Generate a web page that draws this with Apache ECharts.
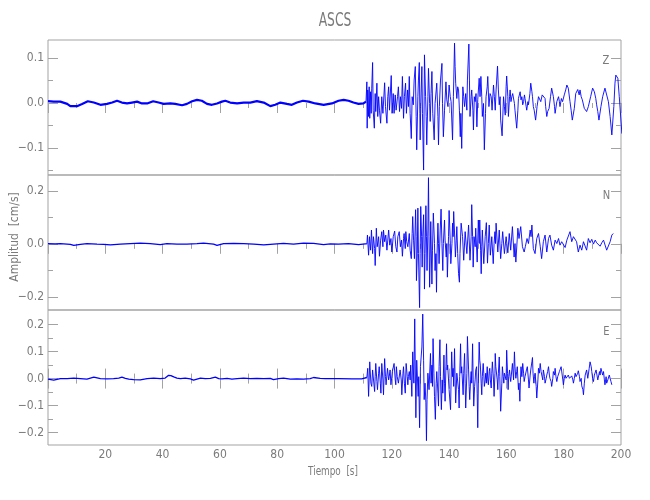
<!DOCTYPE html>
<html>
<head>
<meta charset="utf-8">
<script src="https://cdn.jsdelivr.net/npm/echarts@6/dist/echarts.min.js"></script>
<style>html,body{margin:0;padding:0;background:#fff}#c{width:650px;height:500px}</style>
</head>
<body>
<div id="c"></div>
<script>
// ---------------- DATA (time [s], amplitude [cm/s]) ----------------
const titleText = 'ASCS';
const components = ['Z', 'N', 'E'];
const xTicks = [0, 20, 40, 60, 80, 100, 120, 140, 160, 180, 200];
const zTicks = [-0.1, 0.0, 0.1];
const zMinor = [-0.15, -0.05, 0.05];
const nTicks = [-0.2, 0.0, 0.2];
const nMinor = [-0.1, 0.1];
const eTicks = [-0.2, -0.1, 0.0, 0.1, 0.2];
const eMinor = [-0.15, -0.05, 0.05, 0.15];
const zRange = [-0.16, 0.14];
const nRange = [-0.25, 0.26];
const eRange = [-0.246, 0.254];

const zPre = [[0,0.004],[2,0.003],[4.3,0.003],[6.7,-0.002],[7.8,-0.007],[10.1,-0.007],[11.9,-0.002],[13.9,0.004],[16,0.001],[18.3,-0.004],[20.6,-0.002],[22.4,0.001],[24.1,0.005],[25.8,0.001],[27.6,-0.001],[29.3,0.001],[31.1,0.003],[32.8,-0.001],[34.6,-0.001],[36.7,0.004],[38.6,0.001],[40.4,-0.002],[42.7,-0.001],[44.4,-0.002],[46.8,-0.005],[48.5,-0.002],[50.3,0.004],[52,0.007],[53.7,0.005],[55.5,-0.002],[57.2,-0.004],[59,-0.001],[60.7,0.003],[61.9,0.005],[63.6,0.001],[66,-0.001],[68.3,0.001],[70.6,0.001],[72.9,0.004],[75.3,0.001],[77.6,-0.007],[79.3,-0.004],[81.1,0.001],[83.4,-0.002],[85.1,-0.004],[86.9,0.001],[89,0.005],[91,0.003],[93.3,-0.001],[96.2,-0.004],[99.1,-0.001],[101.4,0.005],[103.2,0.007],[104.9,0.005],[106.6,0.001],[108.4,-0.002],[110.1,-0.001],[111,0.003]];

const zEvt = [[111,0.003],[111.3,0.047],[111.4,-0.056],[111.6,0.029],[111.9,-0.030],[112.1,0.036],[112.3,-0.034],[112.6,0.025],[112.8,-0.023],[113.0,0.033],[113.3,0.090],[113.5,-0.016],[113.9,-0.056],[114.2,0.021],[114.4,-0.019],[114.8,0.044],[115.1,-0.030],[115.4,0.014],[115.7,-0.016],[116.1,-0.045],[116.5,0.014],[116.9,-0.023],[117.5,0.045],[117.8,-0.008],[118.3,-0.045],[118.6,0.014],[118.9,0.036],[119.2,-0.016],[119.8,0.061],[120.1,-0.023],[120.5,0.021],[120.8,-0.023],[121.2,0.018],[121.5,-0.016],[122.0,0.014],[122.3,0.036],[122.7,-0.019],[123.0,0.014],[123.4,-0.012],[123.7,0.059],[124.1,-0.034],[124.4,0.014],[124.8,0.044],[125.1,-0.023],[125.5,0.029],[125.8,-0.008],[126.1,0.059],[126.4,-0.023],[126.8,-0.079],[127.1,0.014],[127.5,-0.004],[127.8,0.051],[128.2,0.081],[128.5,-0.030],[128.7,-0.104],[129.1,0.014],[129.3,0.051],[129.6,0.090],[129.8,-0.023],[129.9,-0.082],[130.1,-0.008],[130.5,0.081],[130.7,-0.023],[131.1,-0.149],[131.3,0.014],[131.4,0.107],[131.8,0.014],[132.0,-0.030],[132.2,-0.093],[132.6,0.014],[132.8,0.077],[133.2,-0.001],[133.4,-0.041],[133.7,0.021],[134.0,0.070],[134.3,-0.023],[134.8,-0.082],[135.1,-0.001],[135.5,0.029],[135.7,0.044],[136.1,-0.030],[136.3,-0.093],[136.6,-0.008],[137.0,0.051],[137.5,0.088],[137.7,-0.001],[138.0,-0.075],[138.4,-0.016],[138.9,0.047],[139.2,0.007],[139.6,-0.008],[140.0,0.040],[140.4,0.014],[140.7,0.003],[141.2,-0.082],[141.5,0.014],[141.9,0.133],[142.1,0.081],[142.3,0.044],[142.7,0.010],[143.0,0.036],[143.3,0.029],[143.6,-0.016],[143.9,-0.075],[144.1,-0.023],[144.4,-0.101],[144.8,0.036],[145.1,0.014],[145.4,-0.008],[145.8,0.021],[146.2,-0.016],[146.4,0.051],[146.9,0.131],[147.1,0.051],[147.3,-0.030],[147.7,0.014],[147.9,0.029],[148.3,-0.016],[148.5,-0.060],[148.8,0.014],[149.1,0.003],[149.4,0.021],[149.7,-0.053],[150.0,0.007],[150.5,0.055],[150.8,0.014],[151.1,0.059],[151.4,0.014],[151.6,-0.030],[152.0,-0.001],[152.3,-0.104],[152.7,-0.023],[152.9,0.014],[153.3,0.036],[153.5,0.059],[153.9,-0.008],[154.3,0.021],[154.7,0.014],[155.0,-0.016],[155.5,0.040],[155.8,0.014],[156.1,-0.016],[156.4,0.029],[156.9,0.082],[157.2,0.029],[157.5,-0.004],[157.8,0.014],[158.0,-0.038],[158.5,-0.073],[159.0,0.014],[159.3,-0.008],[159.6,-0.027],[159.9,0.036],[160.1,0.060],[160.5,0.014],[160.7,-0.030],[161.1,0.014],[161.3,0.029],[161.6,0.003],[161.9,0.014],[162.2,0.021],[162.5,0.025],[162.8,-0.001],[163.0,-0.016],[163.6,-0.056],[164.0,-0.016],[164.2,0.010],[164.8,0.025],[165.1,0.007],[165.4,0.014],[165.7,-0.004],[166.0,0.003],[166.3,0.018],[166.5,0.010],[166.9,-0.008],[167.1,-0.016],[167.5,0.003],[167.7,-0.004],[168.2,0.021],[168.5,0.044],[168.9,0.025],[169.1,0.014],[169.4,-0.008],[169.7,-0.016],[170.2,-0.038],[170.7,-0.008],[171.2,0.014],[171.6,0.010],[172.0,0.003],[172.5,0.018],[172.9,0.014],[173.5,0.010],[173.7,-0.008],[174.1,-0.030],[174.4,-0.019],[174.9,-0.012],[175.4,0.014],[175.8,0.033],[176.4,0.014],[176.8,-0.008],[177.0,-0.023],[177.6,0.003],[178.2,0.014],[178.5,0.003],[178.7,-0.008],[179.2,0.010],[179.6,0.003],[180.2,0.018],[180.7,0.029],[181.1,0.040],[181.6,0.033],[182.2,0.003],[182.6,-0.016],[183.0,-0.038],[183.7,-0.012],[184.2,0.021],[184.9,0.030],[185.4,0.018],[185.7,0.029],[186.1,0.014],[186.5,0.007],[187.2,-0.012],[188.0,-0.019],[188.6,-0.008],[189.4,0.014],[190.1,0.033],[190.7,0.025],[191.2,0.010],[191.5,-0.004],[191.9,-0.019],[192.3,-0.038],[193.0,-0.008],[193.6,0.014],[194.4,0.033],[195.0,0.029],[195.6,0.003],[196.2,-0.030],[196.8,-0.071],[197.5,-0.008],[197.9,0.044],[198.2,0.062],[198.6,0.059],[198.9,0.055],[199.4,0.014],[200.0,-0.040],[200.3,-0.068]];

const nPre = [[0,0.001],[2.5,0.0],[4.3,0.001],[7.8,-0.002],[9.0,-0.006],[11.3,-0.002],[13.6,0.001],[17.1,-0.001],[19.4,-0.002],[21.8,-0.004],[25.3,-0.001],[28.7,0.001],[32.2,0.003],[35.7,0.001],[39.2,-0.003],[41.5,0.001],[45.0,-0.001],[48.5,-0.001],[52.0,0.001],[54.3,0.003],[57.8,-0.001],[59.0,-0.006],[61.3,0.001],[64.8,0.002],[68.3,0.001],[71.8,-0.001],[75.3,-0.004],[78.7,-0.001],[82.2,0.002],[85.7,-0.001],[89.2,0.003],[92.7,0.002],[96.2,-0.003],[98.5,0.0],[101.4,-0.001],[104.9,0.001],[108.4,-0.003],[110.7,0.0],[111.3,0.0]];

const nEvt = [[111.3,0.0],[111.5,0.033],[111.9,-0.043],[112.2,0.027],[112.6,-0.024],[112.9,0.052],[113.3,-0.037],[113.6,0.027],[114.0,-0.018],[114.2,-0.082],[114.6,0.059],[114.9,-0.011],[115.4,0.027],[115.7,-0.047],[116.1,0.014],[116.5,0.046],[116.9,-0.011],[117.1,0.052],[117.5,0.008],[117.9,0.033],[118.3,-0.024],[118.6,0.014],[118.9,0.052],[119.3,-0.005],[119.7,0.020],[120.0,-0.031],[120.5,0.027],[121.0,0.048],[121.4,-0.011],[121.8,-0.031],[122.1,0.027],[122.6,0.046],[123.0,-0.011],[123.4,0.014],[123.7,-0.047],[124.1,0.020],[124.3,0.039],[124.7,-0.018],[124.9,0.046],[125.2,0.008],[125.6,-0.011],[126.1,0.039],[126.4,-0.024],[126.8,-0.056],[127.1,0.039],[127.3,0.103],[127.6,0.014],[127.9,-0.056],[128.3,0.129],[128.5,0.027],[128.6,-0.139],[128.9,-0.037],[129.1,0.135],[129.3,-0.037],[129.7,-0.241],[129.9,-0.037],[130.1,0.141],[130.4,0.027],[130.6,-0.088],[130.8,0.027],[131.1,0.110],[131.3,-0.037],[131.4,-0.171],[131.6,-0.037],[131.9,0.144],[132.1,0.027],[132.3,-0.101],[132.6,0.052],[132.8,0.250],[133.0,0.027],[133.2,-0.164],[133.4,-0.050],[133.6,0.084],[134.0,-0.152],[134.2,-0.024],[134.5,0.116],[134.9,0.001],[135.1,-0.101],[135.4,-0.037],[135.6,-0.183],[135.8,-0.037],[136.1,0.078],[136.3,0.001],[136.5,-0.075],[136.9,0.052],[137.2,0.131],[137.5,0.001],[137.8,-0.101],[138.0,0.001],[138.4,0.090],[138.6,0.014],[139.0,-0.050],[139.2,0.001],[139.4,-0.126],[139.8,0.027],[140.0,0.126],[140.4,0.014],[140.6,-0.075],[141.0,0.001],[141.2,0.078],[141.4,0.027],[141.6,0.122],[142.0,0.014],[142.2,-0.050],[142.5,0.014],[142.7,0.065],[143.0,-0.037],[143.3,-0.113],[143.6,-0.145],[143.8,-0.037],[144.2,0.078],[144.7,0.027],[145.1,-0.062],[145.6,0.046],[146.2,-0.037],[146.8,0.071],[147.3,-0.062],[147.7,0.027],[147.9,0.148],[148.2,0.027],[148.4,-0.088],[148.7,0.027],[149.1,-0.011],[149.3,0.059],[149.8,-0.069],[150.2,0.090],[150.5,0.001],[150.7,0.090],[151.0,-0.024],[151.2,-0.113],[151.4,-0.011],[151.6,0.052],[152.1,-0.075],[152.6,0.027],[153.0,0.080],[153.4,-0.073],[153.7,0.001],[154.0,0.071],[154.4,-0.043],[154.9,0.027],[155.4,-0.075],[155.7,0.001],[156.0,0.046],[156.2,0.001],[156.4,0.078],[157.0,-0.031],[157.5,0.052],[158.0,-0.056],[158.4,0.001],[158.7,0.046],[159.3,-0.037],[159.9,0.027],[160.5,-0.034],[161.0,0.039],[161.5,-0.024],[162.1,0.065],[162.7,-0.050],[163.0,0.001],[163.3,-0.069],[164.0,0.059],[164.4,0.020],[165.0,0.065],[165.6,-0.011],[166.2,-0.031],[166.6,-0.011],[167.2,0.020],[167.7,0.001],[168.3,0.052],[168.6,0.027],[168.9,0.071],[169.4,-0.018],[170.0,-0.037],[170.6,0.020],[171.2,0.039],[171.8,-0.009],[172.3,-0.056],[172.9,0.008],[173.5,0.033],[174.1,-0.031],[174.7,0.020],[175.2,0.033],[175.8,-0.005],[176.4,-0.024],[177.0,0.014],[177.6,0.001],[178.2,0.020],[178.7,-0.005],[179.3,0.008],[179.9,0.014],[180.5,-0.014],[181.1,0.014],[181.6,0.020],[182.2,0.046],[182.8,0.008],[183.4,0.027],[184.0,0.033],[184.5,0.008],[185.1,-0.031],[185.7,-0.005],[186.3,-0.024],[186.9,0.008],[187.5,0.014],[188.0,-0.024],[188.6,0.020],[189.2,0.004],[189.8,0.017],[190.4,-0.001],[191.0,0.014],[191.5,0.004],[192.1,0.011],[192.7,-0.009],[193.3,0.004],[193.9,0.014],[194.4,0.017],[195.0,-0.024],[195.6,-0.031],[196.2,0.008],[196.8,0.033],[197.3,0.039]];

const ePre = [[0,-0.002],[2.0,-0.006],[4.3,0.0],[6.7,0.0],[9.0,0.002],[11.3,0.0],[13.6,-0.002],[16.0,0.005],[18.3,0.0],[20.6,-0.001],[22.9,0.0],[24.7,0.002],[25.8,0.005],[27.0,0.001],[28.2,-0.002],[29.9,-0.004],[32.2,-0.005],[34.6,0.0],[36.9,0.002],[39.2,0.0],[40.9,0.002],[42.1,0.012],[42.9,0.011],[43.9,0.006],[45.0,0.002],[46.2,0.0],[47.9,0.002],[49.7,-0.001],[50.8,-0.006],[52.0,-0.002],[53.2,0.002],[54.9,0.0],[56.7,0.001],[58.4,0.005],[59.6,0.0],[60.7,-0.001],[62.5,0.001],[64.2,-0.002],[66.0,0.0],[68.3,0.002],[70.6,0.0],[72.9,0.001],[75.3,0.0],[77.6,0.001],[78.7,-0.004],[80.5,0.0],[82.2,0.002],[84.6,-0.002],[86.9,-0.001],[89.2,-0.002],[91.5,0.0],[92.7,0.004],[95.0,0.001],[96.8,0.0],[101.4,0.0],[106.1,-0.001],[109.5,-0.001],[111.3,0.004]];

const eEvt = [[111.3,0.004],[111.6,0.038],[111.9,-0.066],[112.3,0.062],[112.7,-0.017],[113.0,-0.029],[113.3,0.032],[113.6,0.026],[114.0,-0.048],[114.2,0.007],[114.4,0.056],[114.8,-0.011],[115.0,-0.041],[115.4,0.020],[115.6,0.044],[116.0,-0.017],[116.2,-0.054],[116.5,0.056],[116.9,-0.005],[117.1,-0.060],[117.5,0.074],[117.8,0.007],[118.0,-0.023],[118.5,0.038],[118.9,-0.005],[119.1,0.007],[119.4,0.032],[119.7,-0.023],[120.2,0.026],[120.8,0.056],[121.2,-0.005],[121.4,-0.023],[121.6,0.044],[121.9,0.007],[122.3,-0.017],[122.9,0.032],[123.3,-0.005],[123.5,-0.060],[123.9,0.020],[124.1,0.044],[124.4,-0.017],[124.7,-0.054],[125.0,0.056],[125.4,0.007],[125.6,-0.023],[125.8,0.007],[126.1,0.026],[126.4,-0.005],[126.6,0.050],[127.0,-0.066],[127.3,0.099],[127.7,-0.017],[128.0,0.221],[128.4,-0.145],[128.7,0.068],[129.2,-0.066],[129.4,0.007],[129.7,-0.182],[130.0,0.044],[130.5,0.117],[130.8,0.239],[131.1,0.068],[131.3,-0.078],[131.6,-0.017],[131.9,-0.090],[132.1,-0.230],[132.3,-0.078],[132.6,0.020],[133.0,-0.041],[133.5,0.093],[133.7,-0.017],[134.0,0.050],[134.2,-0.029],[134.4,0.148],[134.7,0.020],[134.9,-0.066],[135.2,-0.151],[135.5,-0.017],[135.7,0.026],[136.1,-0.054],[136.3,-0.102],[136.5,0.044],[136.8,0.144],[137.0,0.007],[137.3,-0.115],[137.6,-0.005],[137.8,-0.054],[138.2,0.087],[138.4,-0.017],[138.6,-0.084],[138.9,0.044],[139.1,0.129],[139.3,0.032],[139.5,0.050],[140.0,-0.041],[140.5,-0.115],[140.7,-0.005],[140.9,0.099],[141.2,0.007],[141.4,0.038],[141.6,-0.029],[141.9,0.111],[142.1,-0.005],[142.3,-0.090],[142.7,0.020],[142.9,0.026],[143.3,-0.041],[143.5,-0.109],[143.7,0.007],[144.0,0.129],[144.2,0.020],[144.4,0.044],[144.9,-0.060],[145.1,0.020],[145.4,0.093],[145.6,-0.017],[145.8,-0.109],[146.2,0.020],[146.4,0.156],[146.8,0.032],[147.0,-0.029],[147.2,-0.078],[147.5,-0.005],[147.7,0.026],[147.9,-0.017],[148.2,0.129],[148.4,-0.005],[148.6,-0.102],[148.9,-0.029],[149.1,-0.005],[149.3,0.032],[149.6,0.044],[149.8,-0.054],[150.0,-0.182],[150.2,-0.017],[150.5,0.135],[150.7,0.068],[150.9,0.050],[151.2,-0.017],[151.4,-0.060],[151.6,0.007],[151.9,0.056],[152.1,0.020],[152.3,-0.029],[152.6,-0.005],[152.8,0.020],[153.0,-0.017],[153.3,0.044],[153.5,-0.005],[153.7,-0.023],[154.0,0.026],[154.2,0.038],[154.4,-0.005],[154.7,-0.035],[154.9,0.020],[155.1,0.062],[155.5,-0.005],[155.7,-0.066],[156.0,0.020],[156.1,0.093],[156.3,0.044],[156.5,0.050],[156.8,-0.005],[157.0,-0.041],[157.2,0.020],[157.5,0.080],[157.7,0.007],[158.0,-0.121],[158.4,-0.017],[158.6,0.044],[158.9,0.007],[159.1,-0.017],[159.3,0.020],[159.6,0.026],[159.9,-0.005],[160.1,0.105],[160.4,0.020],[160.6,-0.041],[160.8,0.007],[161.1,0.032],[161.3,0.007],[161.5,-0.011],[161.9,0.032],[162.1,0.056],[162.5,-0.005],[162.8,0.099],[163.0,0.044],[163.3,0.001],[163.6,0.026],[163.8,0.044],[164.2,-0.041],[164.4,-0.017],[164.7,-0.084],[164.9,-0.005],[165.1,0.044],[165.4,0.007],[165.7,0.056],[166.0,0.020],[166.2,-0.011],[166.5,0.007],[167.0,0.032],[167.3,0.044],[167.7,-0.005],[167.9,-0.035],[168.3,0.013],[168.5,0.032],[168.9,0.062],[169.1,0.078],[169.3,0.020],[169.6,-0.017],[169.8,0.007],[170.0,0.020],[170.4,-0.029],[170.6,-0.072],[171.0,-0.005],[171.2,0.038],[171.5,0.020],[171.8,0.056],[172.1,0.026],[172.3,0.020],[172.7,-0.005],[172.9,0.032],[173.3,0.007],[173.5,-0.017],[173.9,0.001],[174.1,0.013],[174.4,0.026],[174.7,0.044],[175.0,0.013],[175.2,0.001],[175.6,-0.011],[175.8,-0.029],[176.2,0.001],[176.4,0.026],[176.8,0.013],[177.0,0.038],[177.3,0.007],[177.6,-0.011],[177.9,0.007],[178.5,0.026],[178.7,0.020],[179.1,0.044],[179.3,0.044],[179.7,-0.005],[179.9,-0.023],[180.2,0.001],[180.5,0.013],[180.8,0.001],[181.1,-0.005],[181.4,0.007],[181.6,0.013],[182.0,0.001],[182.2,-0.005],[182.6,0.007],[182.8,0.010],[183.2,-0.005],[183.4,-0.017],[183.7,0.001],[184.0,0.020],[184.3,0.007],[184.5,0.001],[184.9,0.020],[185.1,0.029],[185.5,0.007],[185.7,-0.011],[186.1,0.001],[186.3,-0.027],[186.7,-0.041],[186.9,-0.060],[187.2,-0.017],[187.5,0.013],[187.8,0.020],[188.0,0.032],[188.4,0.001],[188.6,0.007],[188.9,0.038],[189.2,0.062],[189.6,0.044],[189.8,0.026],[190.1,0.001],[190.4,-0.011],[190.7,0.013],[191.0,0.007],[191.3,0.032],[191.5,0.026],[191.9,-0.005],[192.5,0.026],[192.7,0.013],[193.0,0.038],[193.3,0.032],[193.6,0.013],[193.9,0.026],[194.2,-0.005],[194.4,-0.023],[194.8,0.007],[195.0,-0.017],[195.4,-0.005],[195.9,0.013],[196.2,0.007],[196.5,-0.011],[196.8,-0.023]];

// ---------------- CHART ----------------
const AX = '#a3a3a3';
const TX = '#7b7b7b';
const FONT = '"Liberation Sans Narrow","DejaVu Sans Condensed","Liberation Sans",sans-serif';
const LINE = '#0000ff';

const panels = [
  {top: 40,  range: zRange, major: zTicks, minor: zMinor, pre: zPre, evt: zEvt, preW: 2.2},
  {top: 175, range: nRange, major: nTicks, minor: nMinor, pre: nPre, evt: nEvt, preW: 1.3},
  {top: 310, range: eRange, major: eTicks, minor: eMinor, pre: ePre, evt: eEvt, preW: 1.3}
];

function fmtY(v) {
  const s = Math.abs(v).toFixed(1);
  return v < -1e-9 ? '\u2212' + s : s;
}

const grid = [], xAxis = [], yAxis = [], series = [];
panels.forEach((p, i) => {
  grid.push({left: 48, width: 573, top: p.top, height: 135, show: true,
    borderColor: AX, borderWidth: 1, backgroundColor: 'transparent', containLabel: false});
  const xi = xAxis.length;
  xAxis.push({type: 'value', gridIndex: i, position: 'top', min: xTicks[0], max: xTicks[xTicks.length-1], interval: 20,
    axisLine: {show: false}, splitLine: {show: false}, axisLabel: {show: false},
    axisTick: {show: true, inside: true, length: 10, lineStyle: {color: AX, width: 1}},
    minorTick: {show: true, splitNumber: 2, length: 5, lineStyle: {color: AX, width: 1}}});
  if (i === panels.length - 1) {
    xAxis.push({type: 'value', gridIndex: i, position: 'bottom', min: xTicks[0], max: xTicks[xTicks.length-1], interval: 20,
      axisLine: {show: false}, splitLine: {show: false},
      axisLabel: {show: true, showMinLabel: false, margin: 4, color: TX, fontSize: 12, fontFamily: FONT},
      axisTick: {show: true, inside: true, length: 10, lineStyle: {color: AX, width: 1}},
      minorTick: {show: true, splitNumber: 2, length: 5, lineStyle: {color: AX, width: 1}}});
  }
  const yi = yAxis.length;
  const base = {type: 'value', gridIndex: i, min: p.range[0], max: p.range[1],
    axisLine: {show: false}, splitLine: {show: false}};
  yAxis.push(Object.assign({}, base, {position: 'left',
    axisLabel: {show: true, customValues: p.major, formatter: fmtY, margin: 4, color: TX, fontSize: 12, fontFamily: FONT},
    axisTick: {show: true, inside: true, length: 10, customValues: p.major, lineStyle: {color: AX}}}));
  yAxis.push(Object.assign({}, base, {position: 'left', axisLabel: {show: false},
    axisTick: {show: true, inside: true, length: 5, customValues: p.minor, lineStyle: {color: AX}}}));
  yAxis.push(Object.assign({}, base, {position: 'right', axisLabel: {show: false},
    axisTick: {show: true, inside: true, length: 10, customValues: p.major, lineStyle: {color: AX}}}));
  yAxis.push(Object.assign({}, base, {position: 'right', axisLabel: {show: false},
    axisTick: {show: true, inside: true, length: 5, customValues: p.minor, lineStyle: {color: AX}}}));
  series.push({type: 'line', xAxisIndex: xi, yAxisIndex: yi, data: p.pre, showSymbol: false, symbol: 'none',
    clip: true, lineStyle: {color: LINE, width: p.preW}, silent: true, z: 3});
  series.push({type: 'line', xAxisIndex: xi, yAxisIndex: yi, data: p.evt, showSymbol: false, symbol: 'none',
    clip: true, lineStyle: {color: LINE, width: 0.9}, silent: true, z: 3});
});

const txt = (t, x, y, size, rot, sx) => ({type: 'text', x: x, y: y, rotation: rot || 0, scaleX: sx || 1, silent: true,
  style: {text: t, fill: TX, font: size + 'px ' + FONT, textAlign: 'center', textVerticalAlign: 'middle',
          align: 'center', verticalAlign: 'middle'}});

const option = {
  animation: false,
  backgroundColor: '#ffffff',
  grid, xAxis, yAxis, series,
  graphic: [
    txt(titleText, 335, 21, 19, 0, 0.72),
    txt(components[0], 606, 61, 13, 0, 0.85),
    txt(components[1], 606.5, 196, 13, 0, 0.85),
    txt(components[2], 606.5, 332, 13, 0, 0.85),
    txt('Amplitud  [cm/s]', 15, 237, 13, Math.PI / 2, 0.92),
    txt('Tiempo  [s]', 333, 472, 12, 0, 0.82)
  ]
};

const chart = echarts.init(document.getElementById('c'), null, {renderer: 'canvas', width: 650, height: 500});
chart.setOption(option);
</script>
</body>
</html>
